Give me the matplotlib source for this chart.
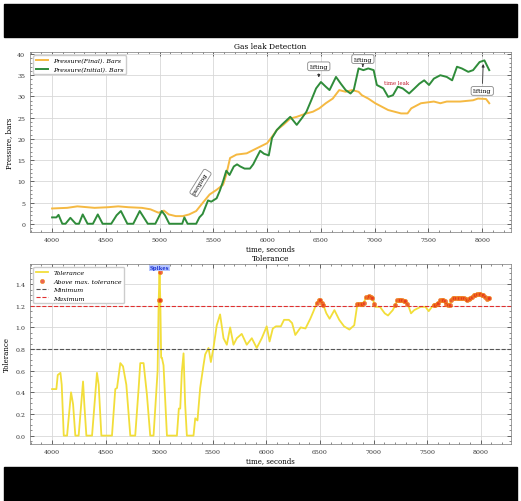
import matplotlib
matplotlib.use('Agg')
import matplotlib.pyplot as plt
from matplotlib.patches import Rectangle
from matplotlib.ticker import AutoMinorLocator
import numpy as np

# pressure readings (seconds, bars)
t_final = [4000, 4140, 4235, 4395, 4520, 4615, 4710, 4835, 4915, 4990, 5040,
           5085, 5150, 5215, 5275, 5340, 5400, 5465, 5530, 5590, 5620, 5655,
           5715, 5810, 5905, 6000, 6045, 6090, 6150, 6215, 6275, 6365, 6425,
           6485, 6545, 6610, 6670, 6730, 6790, 6850, 6880, 6940, 7005, 7065,
           7125, 7185, 7245, 7305, 7340, 7430, 7550, 7610, 7670, 7795, 7915,
           7960, 8035, 8065]
p_final = [3.6, 3.75, 4.1, 3.75, 3.9, 4.1, 3.9, 3.75, 3.4, 2.6, 3.1,
           2.2, 1.8, 1.8, 2.2, 3.0, 4.9, 6.9, 8.0, 9.2, 11.6, 15.5,
           16.3, 16.6, 17.8, 19.0, 20.5, 22.1, 23.3, 24.8, 25.2, 26.0, 26.4,
           27.2, 28.4, 29.5, 31.5, 31.1, 31.5, 31.1, 30.3, 29.5, 28.4, 27.6,
           26.8, 26.4, 26.0, 26.0, 27.2, 28.4, 28.8, 28.4, 28.8, 28.8, 29.1,
           29.5, 29.4, 28.4]

t_initial = [4000, 4040, 4060, 4095, 4125, 4170, 4220, 4250, 4285, 4330, 4380,
             4425, 4470, 4550, 4600, 4640, 4700, 4755, 4815, 4890, 4960, 5020,
             5050, 5090, 5210, 5230, 5260, 5340, 5370, 5400, 5450, 5480, 5530,
             5560, 5590, 5620, 5650, 5690, 5720, 5750, 5790, 5840, 5870, 5900,
             5935, 5970, 6015, 6045, 6090, 6135, 6215, 6275, 6320, 6365, 6410,
             6455, 6500, 6545, 6580, 6640, 6685, 6730, 6775, 6805, 6850, 6895,
             6940, 6990, 7020, 7080, 7125, 7170, 7215, 7260, 7320, 7370, 7415,
             7460, 7505, 7550, 7610, 7670, 7720, 7765, 7810, 7870, 7915, 7975,
             8020, 8065]
p_initial = [1.5, 1.5, 2.1, 0.0, 0.0, 1.4, 0.0, 0.0, 2.2, 0.0, 0.0,
             2.2, 0.0, 0.0, 2.0, 3.0, 0.0, 0.0, 3.0, 0.0, 0.0, 3.0,
             2.0, 0.0, 0.0, 1.5, 0.0, 0.0, 1.5, 2.3, 5.5, 5.2, 6.0,
             7.8, 10.0, 12.5, 11.5, 13.5, 14.0, 13.5, 13.0, 13.0, 14.0, 15.5,
             17.2, 16.5, 16.1, 20.2, 22.1, 23.3, 25.2, 23.3, 24.8, 26.4, 29.1,
             31.9, 33.4, 32.3, 31.5, 34.6, 33.0, 31.5, 30.7, 31.5, 36.6, 36.2,
             36.6, 36.2, 32.7, 31.9, 29.9, 30.3, 32.3, 31.9, 30.7, 31.9, 33.0,
             33.8, 32.7, 34.2, 35.0, 34.6, 33.8, 37.0, 36.6, 35.8, 36.2, 38.1,
             38.5, 36.2]

# tolerance (initial / final)
t_tol = [4000, 4040, 4053, 4078, 4090, 4109, 4140, 4177, 4196, 4217, 4248,
         4289, 4301, 4320, 4373, 4419, 4435, 4460, 4559, 4590, 4606, 4637,
         4662, 4693, 4730, 4776, 4808, 4823, 4854, 4885, 4916, 4947, 4985,
         4995, 5003, 5010, 5018, 5025, 5040, 5072, 5165, 5183, 5196, 5211,
         5227, 5242, 5258, 5320, 5336, 5357, 5382, 5413, 5429, 5460, 5482,
         5506, 5537, 5568, 5600, 5631, 5662, 5693, 5724, 5770, 5817, 5864,
         5910, 5957, 6003, 6030, 6060, 6090, 6135, 6165, 6210, 6240, 6270,
         6320, 6365, 6410, 6440, 6460, 6475, 6490, 6505, 6520, 6530, 6560,
         6590, 6635, 6680, 6725, 6775, 6820, 6850, 6865, 6880, 6895, 6910,
         6930, 6945, 6960, 6975, 6990, 7005, 7015, 7060, 7105, 7135, 7180,
         7205, 7220, 7235, 7250, 7265, 7280, 7295, 7310, 7325, 7350, 7380,
         7440, 7485, 7515, 7545, 7560, 7575, 7590, 7605, 7620, 7635, 7650,
         7665, 7680, 7695, 7710, 7725, 7740, 7755, 7770, 7785, 7800, 7815,
         7830, 7845, 7860, 7875, 7890, 7905, 7920, 7935, 7950, 7965, 7980,
         7995, 8010, 8025, 8040, 8055, 8070, 8080]
tol = [0.43, 0.43, 0.56, 0.58, 0.47, 0.0, 0.0, 0.40, 0.29, 0.0, 0.0,
       0.50, 0.29, 0.0, 0.0, 0.58, 0.47, 0.0, 0.0, 0.43, 0.44, 0.67,
       0.64, 0.47, 0.0, 0.0, 0.44, 0.67, 0.67, 0.38, 0.0, 0.0, 0.60,
       1.25, 1.51, 1.25, 0.72, 0.72, 0.65, 0.0, 0.0, 0.25, 0.25, 0.59,
       0.76, 0.29, 0.0, 0.0, 0.16, 0.14, 0.44, 0.65, 0.75, 0.81, 0.68,
       0.81, 1.02, 1.12, 0.90, 0.84, 1.00, 0.84, 0.90, 0.94, 0.84, 0.90,
       0.81, 0.90, 1.01, 0.87, 0.99, 1.01, 1.01, 1.07, 1.07, 1.04, 0.93,
       1.00, 0.99, 1.08, 1.15, 1.20, 1.23, 1.25, 1.25, 1.23, 1.21, 1.13,
       1.08, 1.16, 1.07, 1.01, 0.98, 1.02, 1.22, 1.22, 1.22, 1.22, 1.23,
       1.28, 1.28, 1.29, 1.28, 1.27, 1.22, 1.19, 1.19, 1.13, 1.11, 1.16,
       1.21, 1.25, 1.25, 1.25, 1.25, 1.24, 1.24, 1.22, 1.20, 1.13, 1.16,
       1.19, 1.19, 1.15, 1.19, 1.21, 1.21, 1.22, 1.23, 1.25, 1.25, 1.25,
       1.24, 1.22, 1.21, 1.21, 1.25, 1.27, 1.27, 1.27, 1.27, 1.27, 1.27,
       1.27, 1.27, 1.26, 1.25, 1.26, 1.27, 1.28, 1.30, 1.30, 1.31, 1.31,
       1.31, 1.30, 1.30, 1.28, 1.26, 1.27, 1.27]

tol_min = 0.8
tol_max = 1.2

plt.rcParams['font.family'] = ['DejaVu Serif']
plt.rcParams['font.size'] = 5

fig = plt.figure(figsize=(5.21, 5.02), dpi=100)
ax1 = fig.add_axes([0.058, 0.536, 0.923, 0.358])
ax2 = fig.add_axes([0.058, 0.114, 0.923, 0.358])


def style_axes(ax):
    ax.grid(True, color='#d8d8d8', lw=0.6)
    ax.xaxis.set_minor_locator(AutoMinorLocator())
    ax.yaxis.set_minor_locator(AutoMinorLocator())
    ax.tick_params(which='both', direction='in', top=True, right=True,
                   labelsize=4.5, colors='#333333')
    ax.tick_params(which='major', length=3, width=0.5)
    ax.tick_params(which='minor', length=1.5, width=0.4)
    for s in ax.spines.values():
        s.set_linewidth(0.5)
        s.set_color('#777777')


# pressure panel
ax1.plot(t_final, p_final, color='#f5b942', lw=1.4,
         label='Pressure(Final). Bars')
ax1.plot(t_initial, p_initial, color='#2f8c3a', lw=1.4,
         label='Pressure(Initial). Bars')
style_axes(ax1)
ax1.set_title('Gas leak Detection', fontsize=5.5, pad=3)
ax1.set_xlabel('time, seconds', fontsize=5, labelpad=2)
ax1.set_ylabel('Pressure, bars', fontsize=5, labelpad=3)
ax1.legend(loc='upper left', prop={'style': 'italic', 'size': 4.5},
           fancybox=True, framealpha=1, edgecolor='#cccccc')

box = dict(boxstyle='round,pad=0.3', fc='white', ec='#888888', lw=0.6)
ax1.text(5380, 9.6, 'purging', rotation=58, ha='center', va='center',
         fontsize=4.5, bbox=box)
arrow = dict(arrowstyle='-|>', color='#333333', lw=0.6, mutation_scale=4)
ax1.annotate('lifting', xy=(6480, 33.8), xytext=(6480, 37.1),
             ha='center', va='center', fontsize=4.5, bbox=box,
             arrowprops=arrow)
ax1.annotate('lifting', xy=(6890, 37.0), xytext=(6890, 38.8),
             ha='center', va='center', fontsize=4.5, bbox=box,
             arrowprops=arrow)
ax1.annotate('lifting', xy=(8010, 38.3), xytext=(8000, 31.3),
             ha='center', va='center', fontsize=4.5, bbox=box,
             arrowprops=arrow)
ax1.text(7200, 33.3, 'time leak', color='#c0182a', fontsize=3.8,
         ha='center', va='center')

# tolerance panel
t_tol = np.array(t_tol)
tol = np.array(tol)
above = tol > tol_max
ax2.plot(t_tol, tol, color='#f2de3a', lw=1.3, label='Tolerance')
ax2.scatter(t_tol[above], tol[above], s=9, color='#e8301c', alpha=0.75,
            edgecolors='#f08a1c', linewidths=0.6, zorder=3,
            label='Above max. tolerance')
ax2.axhline(tol_min, color='#555555', ls='--', lw=0.8, label='Minimum')
ax2.axhline(tol_max, color='#e03030', ls='--', lw=0.8, label='Maximum')
style_axes(ax2)
ax2.set_title('Tolerance', fontsize=5.5, pad=3)
ax2.set_xlabel('time, seconds', fontsize=5, labelpad=2)
ax2.set_ylabel('Tolerance', fontsize=5, labelpad=3)
ax2.legend(loc='upper left', prop={'style': 'italic', 'size': 4.5},
           fancybox=True, framealpha=1, edgecolor='#cccccc')
ax2.text(5003, 1.53, 'Spikes', color='#1a2fd0', fontsize=3.8,
         fontweight='bold', ha='center', va='bottom',
         bbox=dict(boxstyle='square,pad=0.1', fc='#b8c8ff', ec='none'))

# black bands above and below the panels
fig.add_artist(Rectangle((0.008, 0.924), 0.984, 0.066, color='black',
                         transform=fig.transFigure))
fig.add_artist(Rectangle((0.008, 0.0), 0.984, 0.068, color='black',
                         transform=fig.transFigure))

fig.savefig('out.png', dpi=100)
